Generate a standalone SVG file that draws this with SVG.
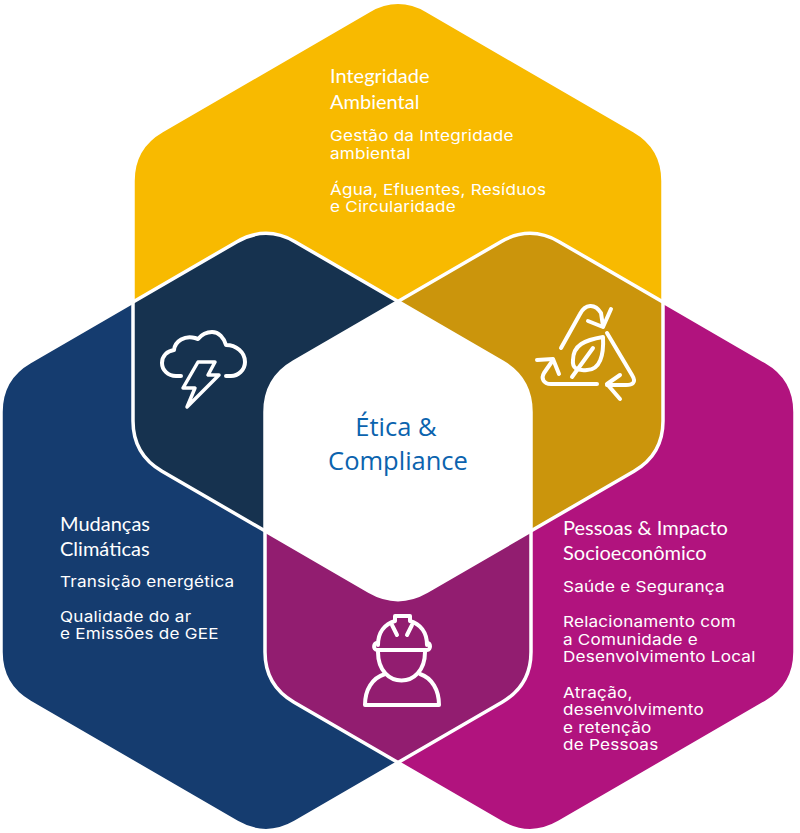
<svg xmlns="http://www.w3.org/2000/svg" width="800" height="833" viewBox="0 0 800 833">
<style>
.t{font-family:"Lato","Open Sans",sans-serif;font-size:20px;fill:#fff}
.b{font-family:"Inter","Noto Sans",sans-serif;font-size:15px;letter-spacing:.2px;fill:#fff}
.c{font-family:"Open Sans","Noto Sans",sans-serif;font-size:25.5px;fill:#0b63ae;text-anchor:middle}
.o{fill:none;stroke:#fff;stroke-width:3.5}
.i{fill:none;stroke:#fff;stroke-width:4;stroke-linecap:round;stroke-linejoin:round}
</style>
<defs>
<path id="h" d="M-29,-290.3 Q0,-307 29,-290.3 L236,-170.2 Q265,-153.5 265,-120 L265,120 Q265,153.5 236,170.2 L29,290.3 Q0,307 -29,290.3 L-236,170.2 Q-265,153.5 -265,120 L-265,-120 Q-265,-153.5 -236,-170.2 Z"/>
<clipPath id="cT"><use href="#h" x="398" y="301"/></clipPath>
<clipPath id="cL"><use href="#h" x="266" y="532"/></clipPath>
</defs>
<g id="hex-top"><use href="#h" x="398" y="301" fill="#f8ba00"/></g>
<g id="hex-left"><use href="#h" x="266" y="532" fill="#153c6f"/></g>
<g id="hex-right"><use href="#h" x="530" y="532" fill="#b1137e"/></g>
<g id="overlaps">
<g clip-path="url(#cT)"><use href="#h" x="266" y="532" fill="#16324f"/><use href="#h" x="530" y="532" fill="#cb950c"/></g>
<g clip-path="url(#cL)"><use href="#h" x="530" y="532" fill="#921d70"/></g>
<g clip-path="url(#cT)"><g clip-path="url(#cL)"><use href="#h" x="530" y="532" fill="#fff"/></g></g>
</g>
<g id="outlines">
<use href="#h" x="398" y="301" class="o"/>
<use href="#h" x="266" y="532" class="o"/>
<use href="#h" x="530" y="532" class="o"/>
</g>
<g id="icon-cloud" class="i">
<path d="M181,376 H176 C168,376 162,370 162,363 C162,356 167,351 174,350 C175,341 185,335 195,338 L198,339 C203,333 208,332 212,332 C219,332 224,338 226,345 C236,345 245,352 245,362 C245,370 238,376 231,376 H226"/>
<path d="M198,362 H215 L208,375 H219 L187,407 L195,388 H183 Z" stroke-width="3.5"/>
</g>
<g id="icon-recycle" class="i">
<path d="M561,348 L580,314 C585,304 595,303 601,313 L603,326"/>
<path d="M588,321 L603,327 L611,309"/>
<path d="M607,333 L632,375 C637,383 632,385 626,385 H607"/>
<path d="M620,375 L607,384 L620,399"/>
<path d="M597,384 H551 C543,384 541,378 544,373 L553,360"/>
<path d="M537,360 L553,359 L559,374"/>
<path d="M603,337 C585,340 573,345 573,360 C572,368 577,371 587,370 C600,370 604,355 603,337 Z"/>
<path d="M572,377 L593,348"/>
</g>
<g id="icon-worker" class="i">
<path d="M378,645 C378,632 385,624 395,621 V616 H410 V621 C420,624 427,632 427,645"/>
<path d="M377,650 H427 C431,650 431,642 427,643 M377,650 C373,650 373,642 378,643"/>
<path d="M392,625 L397,635 M412,625 L407,635"/>
<path d="M378,652 C378,690 425,690 425,652"/>
<path d="M385,674 C372,678 365,690 365,705 H439 C439,690 432,678 420,674"/>
</g>
<g id="label-center"><text class="c" x="396" y="436">Ética &amp;</text><text class="c" x="398" y="470">Compliance</text></g>
<g id="label-top">
<text class="t" x="330" y="83">Integridade</text><text class="t" x="330" y="109">Ambiental</text>
<g transform="translate(330 0) scale(1.14 1)">
<text class="b" x="0" y="141">Gestão da Integridade</text><text class="b" x="0" y="159">ambiental</text>
<text class="b" x="0" y="195">Água, Efluentes, Resíduos</text><text class="b" x="0" y="212">e Circularidade</text>
</g></g>
<g id="label-left">
<text class="t" x="60" y="531">Mudanças</text><text class="t" x="60" y="556">Climáticas</text>
<g transform="translate(60 0) scale(1.14 1)">
<text class="b" x="0" y="587">Transição energética</text>
<text class="b" x="0" y="622">Qualidade do ar</text><text class="b" x="0" y="639">e Emissões de GEE</text>
</g></g>
<g id="label-right">
<text class="t" x="563" y="535">Pessoas &amp; Impacto</text><text class="t" x="563" y="560">Socioeconômico</text>
<g transform="translate(563 0) scale(1.14 1)">
<text class="b" x="0" y="592">Saúde e Segurança</text>
<text class="b" x="0" y="627">Relacionamento com</text><text class="b" x="0" y="645">a Comunidade e</text><text class="b" x="0" y="662">Desenvolvimento Local</text>
<text class="b" x="0" y="698">Atração,</text><text class="b" x="0" y="715">desenvolvimento</text><text class="b" x="0" y="733">e retenção</text><text class="b" x="0" y="750">de Pessoas</text>
</g></g>
</svg>
